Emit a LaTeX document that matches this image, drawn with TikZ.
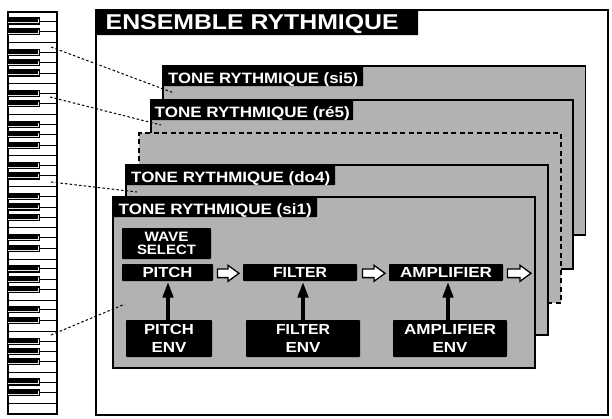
\documentclass[tikz,border=0pt]{standalone}
\usepackage{fontspec}
\setmainfont{Liberation Sans}
\usetikzlibrary{arrows.meta}
\definecolor{cardgray}{gray}{0.70}
\tikzset{
  every picture/.style={x=1pt,y=-1pt},
  card/.style={draw=black,fill=cardgray,line width=1.5pt,rectangle},
  dashcard/.style={draw=black,fill=cardgray,line width=1.5pt,dash pattern=on 5pt off 3.5pt},
  tab/.style={fill=black,text=white,font=\bfseries\fontsize{15}{15}\selectfont,inner sep=0pt,rounded corners=0.8pt,anchor=north west,text height=15pt,text depth=0pt},
  titletab/.style={tab,font=\bfseries\fontsize{21.4}{21.4}\selectfont,text height=15.5pt},
  blockbox/.style={fill=black,text=white,font=\bfseries\fontsize{14.6}{13}\selectfont,inner sep=0pt,rounded corners=0.8pt,align=center,anchor=center},
  wavebox/.style={blockbox,font=\bfseries\fontsize{13.6}{13.6}\selectfont},
  link/.style={line width=1pt,dash pattern=on 2.5pt off 2.2pt},
  feed/.style={line width=4.2pt,-{Triangle[length=16pt,width=10pt]}},
  whitearrow/.style={line width=1.3pt,draw=black,fill=white,line join=miter},
  fullline/.style={line width=1pt},
  keyline/.style={line width=0.9pt},
}
\newcommand{\wt}[2]{\resizebox{#1pt}{\height}{#2}}
\newcommand{\boxat}[6]{%
  \node[blockbox,minimum width=#4pt-#2pt,minimum height=#5pt-#3pt] (#1) at ({(#2+#4)/2},{(#3+#5)/2}) {#6};}
\newcommand{\cardat}[6]{%
  \node[#6,inner sep=0pt,minimum width=#4pt-#2pt,minimum height=#5pt-#3pt] (#1) at ({(#2+#4)/2},{(#3+#5)/2}) {};}
\newcommand{\tabat}[6]{%
  \node[tab,minimum width=#4pt-#2pt,minimum height=#5pt-#3pt] (#1) at (#2,#3) {#6};}
\begin{document}
\begin{tikzpicture}
\useasboundingbox (0,0) rectangle (612,418);
\fill[white] (0,0) rectangle (612,418);
% keyboard
\draw[line width=1.1pt] (8,12) rectangle (57,414);
\foreach \yy in {42.4,83.4,114.6,155.6,186.8,227.8,259,300,331.2,372.2,403.4}{
  \draw[fullline] (8,\yy) -- (57,\yy);
}
\foreach \yy in {21,31.5,52.3,62.6,73,93.2,103.7,124.5,134.8,145.2,165.4,175.9,196.7,207,217.4,237.6,248.1,268.9,279.2,289.6,309.8,320.3,341.1,351.4,361.8,382,392.5}{
  \draw[keyline] (40,\yy) -- (57,\yy);
  \fill[black] (8,\yy-3.6) rectangle (40,\yy+3.6);
  \draw[white!90!black,line width=0.9pt] (8,\yy+1.9) -- (38.5,\yy+1.9) -- (38.5,\yy-2);
}
% outer frame
\node[draw=black,line width=2pt,inner sep=0pt,minimum width=512pt,minimum height=405.5pt] (frame) at (351.5,212.25) {};
\node[titletab,minimum width=323pt,minimum height=26pt] (title) at (95,9) {\hspace*{-9pt}\wt{293}{ENSEMBLE RYTHMIQUE}};
% cards
\cardat{si5}{163}{66}{585.5}{235}{card}
\tabat{tsi5}{163}{66}{363}{86}{\wt{190}{TONE RYTHMIQUE (si5)}}
\cardat{re5}{151}{100}{573}{269}{card}
\tabat{tre5}{151}{100}{353}{120}{\wt{195}{TONE RYTHMIQUE (ré5)}}
\cardat{dash}{139}{133}{561}{303}{dashcard}
\cardat{do4}{126}{165}{548}{335}{card}
\tabat{tdo4}{126}{165}{335}{185}{\wt{199}{TONE RYTHMIQUE (do4)}}
\cardat{si1}{113}{197}{535}{368}{card}
\tabat{tsi1}{113}{197}{317}{217}{\wt{193}{TONE RYTHMIQUE (si1)}}
% blocks
\node[wavebox,minimum width=89pt,minimum height=31pt] (wave) at (166.5,243.5) {\wt{44}{WAVE}\\\wt{59}{SELECT}};
\boxat{pitch}{122}{264}{213}{281}{\wt{50}{PITCH}}
\boxat{filter}{243}{264}{357}{281}{\wt{54}{FILTER}}
\boxat{amp}{389}{264}{503}{281}{\wt{92}{AMPLIFIER}}
\boxat{penv}{126}{320}{212}{357}{\wt{50}{PITCH}\\[4.3pt]\wt{35}{ENV}}
\boxat{fenv}{246}{320}{360}{357}{\wt{54}{FILTER}\\[4.3pt]\wt{35}{ENV}}
\boxat{aenv}{393}{320}{507}{357}{\wt{92}{AMPLIFIER}\\[4.3pt]\wt{35}{ENV}}
% feeds
\draw[feed] (168,320) -- (168,281.5);
\draw[feed] (303,320) -- (303,281.5);
\draw[feed] (448,320) -- (448,281.5);
% white arrows
\foreach \x/\e in {217.5/239,362.5/385,507.5/531}{
  \draw[whitearrow] (\x,269) -- (\e-11,269) -- (\e-11,265.3) -- (\e,273.3) -- (\e-11,281.3) -- (\e-11,277.6) -- (\x,277.6) -- cycle;
}
% connectors
\coordinate (k1) at (51,47); \coordinate (e1) at (174,93);
\coordinate (k2) at (50,97); \coordinate (e2) at (161,125);
\coordinate (k3) at (51,182); \coordinate (e3) at (137,192);
\coordinate (k4) at (51,335); \coordinate (e4) at (125,304);
\draw[link] (k1) -- (e1);
\draw[link] (k2) -- (e2);
\draw[link] (k3) -- (e3);
\draw[link] (k4) -- (e4);
\end{tikzpicture}
\end{document}
